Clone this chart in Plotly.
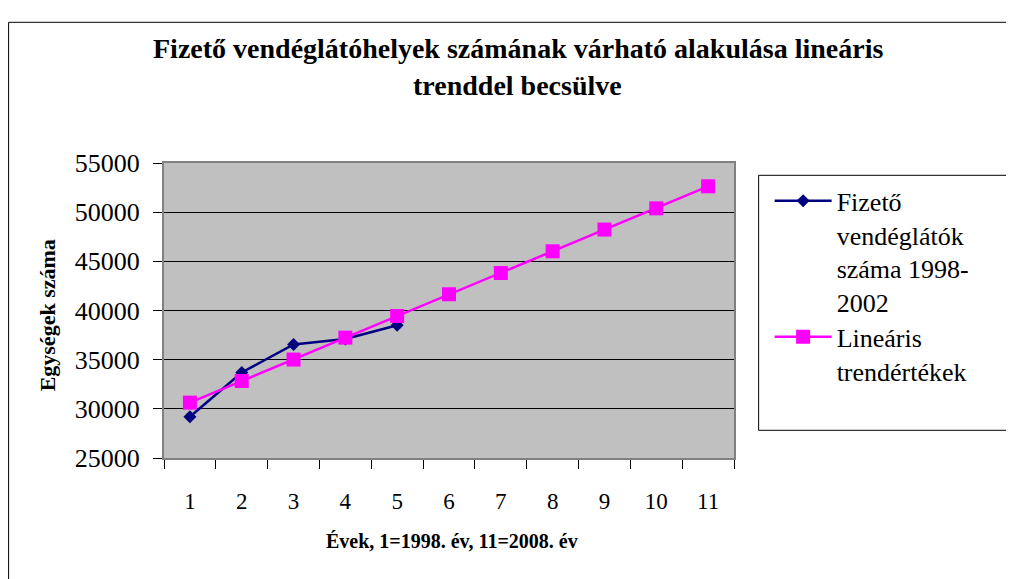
import plotly.graph_objects as go

years = ["1", "2", "3", "4", "5", "6", "7", "8", "9", "10", "11"]
actual_years = ["1", "2", "3", "4", "5"]
actual_values = [29200, 33700, 36550, 37100, 38500]
trend_values = [30630, 32830, 35010, 37240, 39440, 41650, 43810, 46020, 48230, 50390, 52630]

series_actual = "Fizető<br>vendéglátók<br>száma 1998-<br>2002"
series_trend = "Lineáris<br>trendértékek"
title_line1 = "Fizető vendéglátóhelyek számának várható alakulása lineáris"
title_line2 = "trenddel becsülve"
x_title = "Évek, 1=1998. év, 11=2008. év"
y_title = "Egységek száma"

FONT = "Liberation Serif, Times New Roman, serif"

# the page body has an 8px margin; work in screen pixels and convert
OFF = 8
W, H = 1014 - OFF, 579 - OFF
SL, SR, ST, SB = 164, 734.35, 162.7, 457.7   # plot area in screen px
L, R, T, B = SL - OFF, SR - OFF, ST - OFF, SB - OFF
pw, ph = R - L, B - T

def px(x):
    return (x - SL) / pw

def py(y):
    return (SB - y) / ph

legend_common = dict(
    xanchor="left", yanchor="top",
    font=dict(family=FONT, size=26, color="black"),
    bgcolor="rgba(0,0,0,0)", borderwidth=0,
    valign="top", itemwidth=57,
)

fig = go.Figure()
fig.add_trace(go.Scatter(
    x=actual_years, y=actual_values, name=series_actual, mode="lines+markers",
    line=dict(color="#000080", width=2.5),
    marker=dict(symbol="diamond", size=10, color="#000080"),
    legend="legend",
))
fig.add_trace(go.Scatter(
    x=years, y=trend_values, name=series_trend, mode="lines+markers",
    line=dict(color="#FF00FF", width=2.5),
    marker=dict(symbol="square", size=14, color="#FF00FF"),
    legend="legend2",
))

fig.update_layout(
    width=W, height=H,
    margin=dict(l=L, r=W - R, t=T, b=H - B, pad=0),
    paper_bgcolor="white",
    plot_bgcolor="#C0C0C0",
    font=dict(family=FONT, color="black"),
    showlegend=True,
    legend=dict(x=px(770), y=py(177), **legend_common),
    legend2=dict(x=px(770), y=py(313), **legend_common),
    xaxis=dict(
        type="category", categoryorder="array", categoryarray=years,
        range=[-0.5, 10.5], autorange=False,
        tickson="boundaries", ticks="outside", ticklen=9, tickcolor="black",
        showgrid=False, showline=True, linecolor="#808080", linewidth=2, mirror=True,
        tickfont=dict(family=FONT, size=23, color="black"),
        ticklabelstandoff=21,
        zeroline=False,
    ),
    yaxis=dict(
        range=[25000, 55000], autorange=False, dtick=5000, tick0=25000, tickformat="d",
        ticks="outside", ticklen=9, tickcolor="black",
        showgrid=True, gridcolor="black", gridwidth=1,
        showline=True, linecolor="#808080", linewidth=2, mirror=True,
        tickfont=dict(family=FONT, size=26, color="black"),
        ticklabelstandoff=8,
        zeroline=False,
    ),
    shapes=[
        dict(type="rect", xref="paper", yref="paper",
             x0=px(8.5), x1=px(1040), y0=py(22), y1=py(620),
             line=dict(color="black", width=1), fillcolor="rgba(0,0,0,0)", layer="below"),
        dict(type="rect", xref="paper", yref="paper",
             x0=px(759), x1=px(1010.5), y0=py(175), y1=py(430),
             line=dict(color="black", width=1), fillcolor="white", layer="below"),
    ],
    annotations=[
        dict(text="<b>" + title_line1 + "</b>", xref="paper", yref="paper",
             x=px(518), y=py(48), xanchor="center", yanchor="middle", showarrow=False,
             font=dict(family=FONT, size=28, color="black")),
        dict(text="<b>" + title_line2 + "</b>", xref="paper", yref="paper",
             x=px(518), y=py(85), xanchor="center", yanchor="middle", showarrow=False,
             font=dict(family=FONT, size=28, color="black")),
        dict(text="<b>" + x_title + "</b>", xref="paper", yref="paper",
             x=px(452), y=py(541), xanchor="center", yanchor="middle", showarrow=False,
             font=dict(family=FONT, size=20, color="black")),
        dict(text="<b>" + y_title + "</b>", xref="paper", yref="paper",
             x=px(47), y=py(315), xanchor="center", yanchor="middle", showarrow=False,
             textangle=-90,
             font=dict(family=FONT, size=22, color="black")),
    ],
)

fig.write_html("out.html")
